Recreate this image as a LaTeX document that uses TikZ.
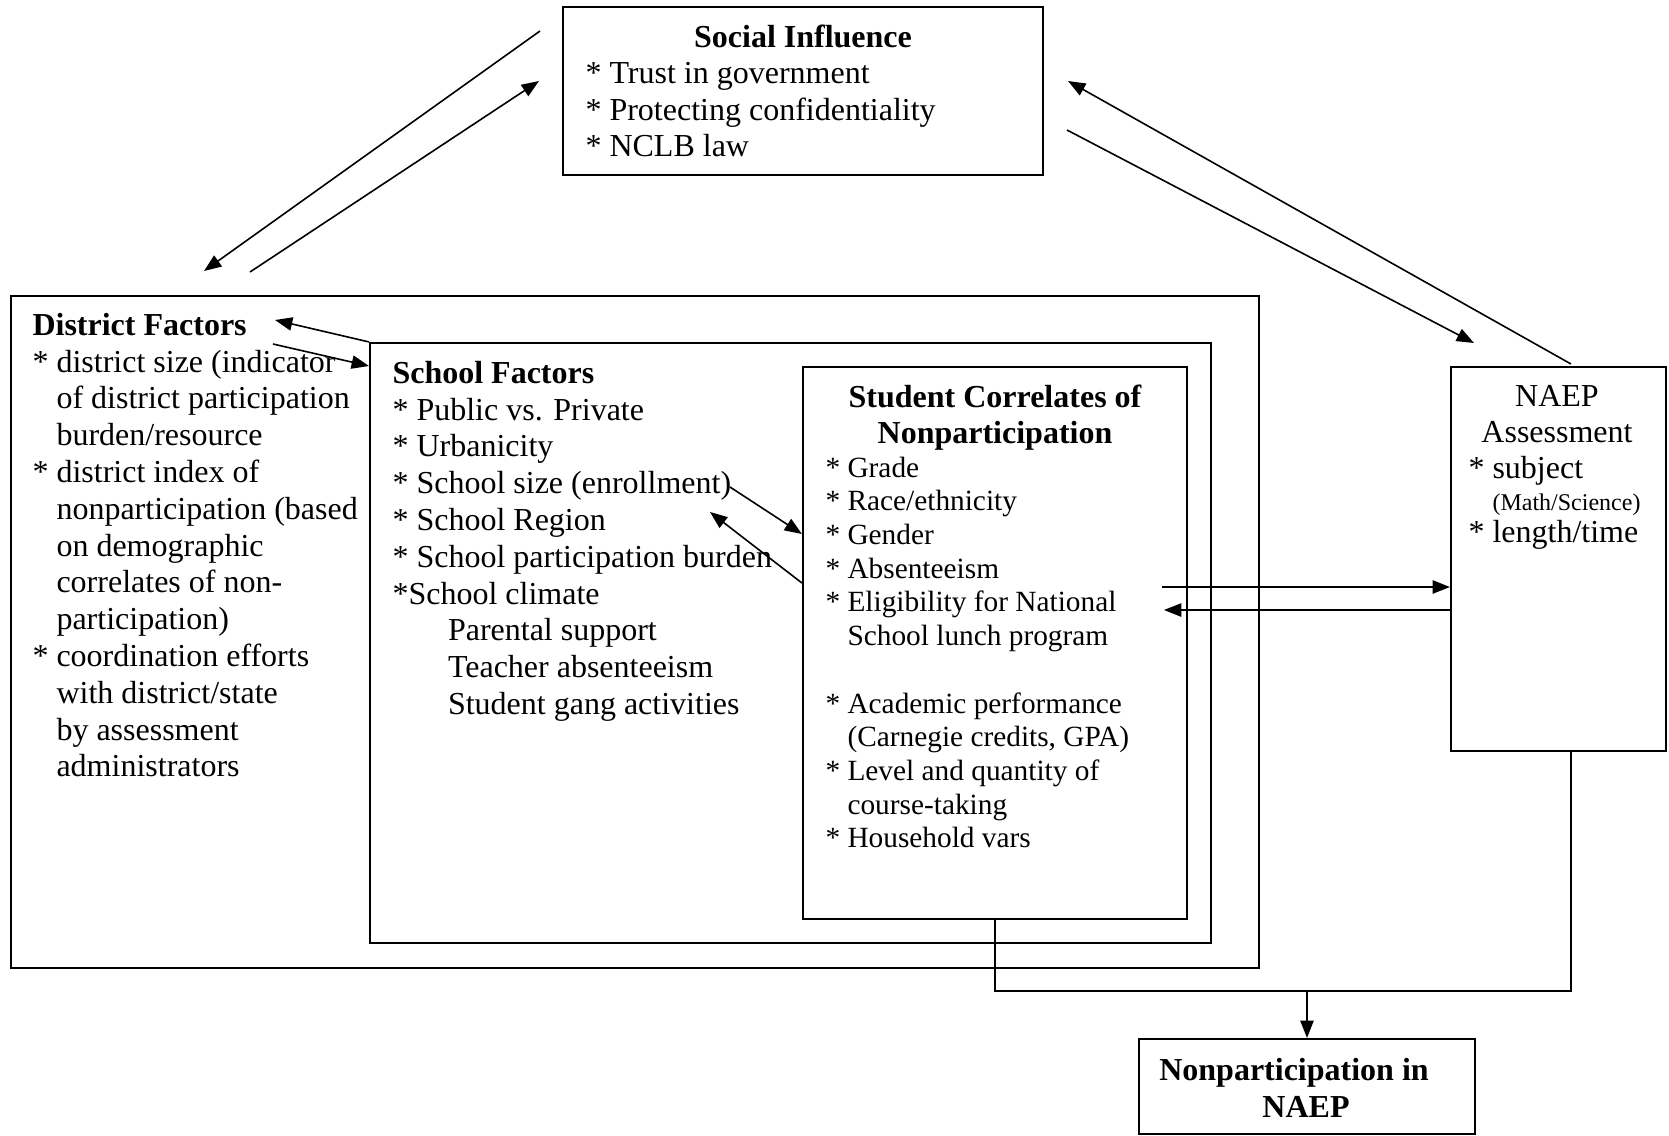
\documentclass[tikz,border=0pt]{standalone}
\usepackage{fontspec}
\setmainfont{Liberation Serif}
\usetikzlibrary{arrows.meta, fit}
\tikzstyle{box} = [rectangle, draw, line width=0.8pt, inner sep=0pt]
\tikzstyle{txt} = [inner sep=0pt, anchor=north west, align=left, font=\fontsize{12}{13.8}\selectfont]
\tikzstyle{head} = [inner sep=0pt, anchor=north, align=center, font=\bfseries\fontsize{12}{13.8}\selectfont]
\tikzstyle{arrow} = [line width=0.6pt, -{Triangle[length=6.5pt, width=5pt]}]
\tikzstyle{line} = [line width=0.6pt]
\newcommand{\ind}{\hspace*{0.75em}}

\begin{document}
\begin{tikzpicture}[x=0.375pt, y=-0.375pt] % 1 unit = 1 px of the page
        \useasboundingbox (0,0) rectangle (1669,1136);

        % Boxes (nested frames fitted to their corners)
        \node (social) [box, fit={(563,7) (1043,175)}] {};
        \node (district) [box, fit={(11,296) (1259,968)}] {};
        \node (school) [box, fit={(370,343) (1211,943)}] {};
        \node (student) [box, fit={(803,367) (1187,919)}] {};
        \node (naep) [box, fit={(1451,367) (1666,751)}] {};
        \node (nonpart) [box, fit={(1139,1039) (1475,1134)}] {};

        % Texts
        \node (soc_title) [head] at (803,21) {\strut Social Influence};
        \node (soc_list) [txt] at (585,57) {\strut* Trust in government\\* Protecting confidentiality\\* NCLB law};
        \node (dist_text) [txt] at (32,309) {\strut\textbf{District Factors}\\
            * district size (indicator\\ \ind of district participation\\ \ind burden/resource\\
            * district index of\\ \ind nonparticipation (based\\ \ind on demographic\\ \ind correlates of non-\\ \ind participation)\\
            * coordination efforts\\ \ind with district/state\\ \ind by assessment\\ \ind administrators};
        \node (sch_text) [txt] at (392,357) {\strut\textbf{School Factors}\\
            * Public vs. Private\\* Urbanicity\\* School size (enrollment)\\* School Region\\* School participation burden\\
            *School climate\\ \hspace*{20.8pt}Parental support\\ \hspace*{20.8pt}Teacher absenteeism\\ \hspace*{20.8pt}Student gang activities};
        \node (stu_title) [head, font=\bfseries\fontsize{12}{13.5}\selectfont] at (995,382) {\strut Student Correlates of\\Nonparticipation};
        \node (stu_list) [txt, font=\fontsize{11}{12.64}\selectfont] at (825,453) {\strut* Grade\\* Race/ethnicity\\* Gender\\* Absenteeism\\
            * Eligibility for National\\ \ind School lunch program\\[12.64pt]
            * Academic performance\\ \ind (Carnegie credits, GPA)\\* Level and quantity of\\ \ind course-taking\\* Household vars};
        \node (naep_title) [head, font=\fontsize{12}{13.5}\selectfont] at (1557,381) {\strut NAEP\\Assessment};
        \node (naep_list) [txt, font=\fontsize{12}{12}\selectfont] at (1468,456) {\strut* subject\\ \ind{\fontsize{9}{12}\selectfont(Math/Science)}\\* length/time};
        \node (non_text) [head] at (1306,1054) {\strut Nonparticipation in\hspace*{9pt}\\NAEP};

        % Free ends of the arrows
        \coordinate (sd_top) at (540,31);
        \coordinate (sd_bot) at (204,271);
        \coordinate (ds_bot) at (250,272);
        \coordinate (ds_top) at (539,81);
        \coordinate (sn_top) at (1068,81);
        \coordinate (sn_bot) at (1571,364);
        \coordinate (ns_top) at (1067,130);
        \coordinate (ns_bot) at (1474,343);
        \coordinate (dist_head) at (275,320);
        \coordinate (dist_tail) at (273,344);
        \coordinate (enroll_end) at (730,487);
        \coordinate (region_head) at (710,512);
        \coordinate (stu_out) at (1162,587);
        \coordinate (stu_in) at (1164,610);
        \coordinate (join) at (1307,991);

        % Social influence both ways
        \draw [arrow] (sd_top) -- (sd_bot);
        \draw [arrow] (ds_bot) -- (ds_top);
        \draw [arrow] (sn_bot) -- (sn_top);
        \draw [arrow] (ns_top) -- (ns_bot);

        % District <-> School <-> Student
        \draw [arrow] (school.north west) -- (dist_head);
        \draw [arrow] (dist_tail) -- (school.west |- 0,366);
        \draw [arrow] (enroll_end) -- (student.west |- 0,534);
        \draw [arrow] (student.west |- 0,583) -- (region_head);

        % Student <-> NAEP
        \draw [arrow] (stu_out) -- (stu_out -| naep.west);
        \draw [arrow] (stu_in -| naep.west) -- (stu_in);

        % Both feed into nonparticipation
        \draw [line] (student.south) |- (join) -| (1571,0 |- naep.south);
        \draw [arrow] (join) -- (join |- nonpart.north);

\end{tikzpicture}
\end{document}
